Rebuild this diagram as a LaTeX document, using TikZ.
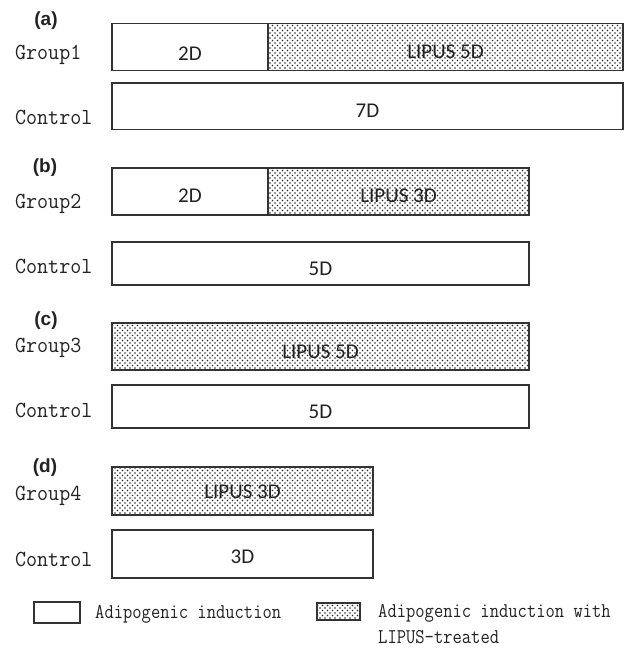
\documentclass[tikz,border=0pt]{standalone}
\usepackage{fontspec}
\setmainfont{Carlito}
\newfontfamily\barfont{Carlito}
\newfontfamily\grpfont[FakeStretch=0.93]{Latin Modern Mono}
\newfontfamily\legfont[FakeStretch=0.86]{Latin Modern Mono}
\newfontfamily\panfont{Liberation Sans}
\usetikzlibrary{patterns}
\pgfdeclarepatternformonly{lipusdots}{\pgfqpoint{-1pt}{-1pt}}{\pgfqpoint{4pt}{4pt}}{\pgfqpoint{5pt}{5pt}}{%
  \pgfpathcircle{\pgfqpoint{0pt}{0pt}}{0.8pt}%
  \pgfpathcircle{\pgfqpoint{2.5pt}{2.5pt}}{0.8pt}%
  \pgfusepath{fill}}
\definecolor{linec}{HTML}{333333}
\definecolor{dotc}{HTML}{2A2A2A}
\definecolor{txtc}{HTML}{222222}
\tikzset{
  whitebar/.style={draw=linec, line width=1.3pt, fill=white},
  lipusbar/.style={draw=linec, line width=1.3pt, pattern=lipusdots, pattern color=dotc},
  bartext/.style={font=\barfont\fontsize{21}{21}\selectfont, anchor=base, inner sep=0pt, text=txtc},
  grptext/.style={font=\grpfont\fontsize{23}{23}\selectfont, anchor=base west, inner sep=0pt, text=txtc},
  pantext/.style={font=\panfont\bfseries\fontsize{19}{19}\selectfont, anchor=base, inner sep=0pt, text=txtc},
  legtext/.style={font=\legfont\fontsize{21}{21}\selectfont, anchor=base west, inner sep=0pt, text=txtc},
}
\begin{document}
\begin{tikzpicture}[x=1pt,y=-1pt]
\useasboundingbox (0,0) rectangle (625,648);
% (a)
\node[pantext] (pa) at (46,25) {(a)};
\node[grptext] (ga) at (15,59) {Group1};
\node[grptext] (ca) at (15,124) {Control};
\draw[whitebar] (112,23.5) rectangle (268,70.5);
\draw[lipusbar] (268,23.5) rectangle (623,70.5);
\draw[whitebar] (112,83) rectangle (623,129.5);
\node[bartext] (ta1) at (190,60) {2D};
\node[bartext] (ta2) at (445.5,58.5) {LIPUS 5D};
\node[bartext] (ta3) at (367.5,117) {7D};
% (b)
\node[pantext] (pb) at (45,172) {(b)};
\node[grptext] (gb) at (15,208) {Group2};
\node[grptext] (cb) at (15,273) {Control};
\draw[whitebar] (112,168) rectangle (268,215);
\draw[lipusbar] (268,168) rectangle (529,215);
\draw[whitebar] (112,242) rectangle (529,285);
\node[bartext] (tb1) at (190,202.5) {2D};
\node[bartext] (tb2) at (398.5,202.5) {LIPUS 3D};
\node[bartext] (tb3) at (320.5,275) {5D};
% (c)
\node[pantext] (pc) at (46,325) {(c)};
\node[grptext] (gc) at (15,352) {Group3};
\node[grptext] (cc) at (15,417) {Control};
\draw[lipusbar] (112,323) rectangle (529,370);
\draw[whitebar] (112,385) rectangle (529,428);
\node[bartext] (tc1) at (320.5,358) {LIPUS 5D};
\node[bartext] (tc2) at (320.5,418) {5D};
% (d)
\node[pantext] (pd) at (45,472) {(d)};
\node[grptext] (gd) at (15,500) {Group4};
\node[grptext] (cd) at (15,566) {Control};
\draw[lipusbar] (112,467) rectangle (373,515);
\draw[whitebar] (112,530) rectangle (373,578);
\node[bartext] (td1) at (242.5,498.5) {LIPUS 3D};
\node[bartext] (td2) at (242.5,563) {3D};
% legend
\draw[whitebar] (34,602) rectangle (80,623);
\node[legtext] (l1) at (95,618) {Adipogenic induction};
\draw[lipusbar] (317,603) rectangle (360,620);
\node[legtext] (l2) at (378,617) {Adipogenic induction with};
\node[legtext] (l3) at (378,643) {LIPUS-treated};
\end{tikzpicture}
\end{document}
